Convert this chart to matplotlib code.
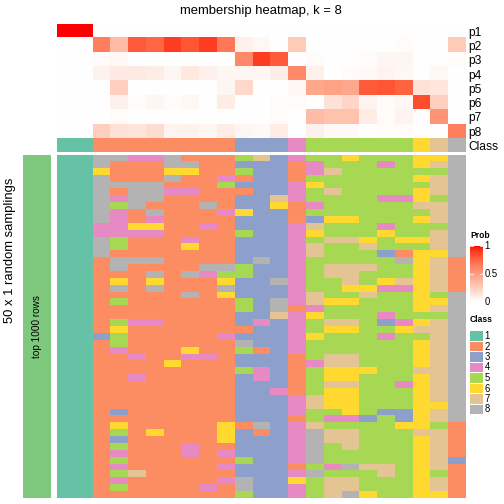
import numpy as np
import matplotlib
matplotlib.use("Agg")
import matplotlib.pyplot as plt
from matplotlib.colors import ListedColormap, LinearSegmentedColormap
from matplotlib.patches import Rectangle

plt.rcParams['font.family'] = ['Liberation Sans', 'DejaVu Sans']

# ---- data ----
title = "membership heatmap, k = 8"
prob_rows = ["p1", "p2", "p3", "p4", "p5", "p6", "p7", "p8"]
class_labels = ["1", "2", "3", "4", "5", "6", "7", "8"]
class_colors = ["#66C2A5", "#FC8D62", "#8DA0CB", "#E78AC3",
                "#A6D854", "#FFD92F", "#E5C494", "#B3B3B3"]

# class of each column (23 samples)
col_class = [1, 1, 2, 2, 2, 2, 2, 2, 2, 2, 3, 3, 3, 4, 5, 5, 5, 5, 5, 5, 6, 7, 8]

# membership probabilities, one list per class
p1 = [1, 1, 0, 0, 0, 0, 0, 0, 0, 0, 0, 0, 0, 0, 0, 0, 0, 0, 0, 0, 0, 0, 0]
p2 = [0, 0, .65, .35, .8, .75, .9, .82, .9, .68, .08, .04, 0, .27, 0, 0, 0, 0, 0, .02, 0, 0, .27]
p3 = [0, 0, .02, .04, 0, 0, 0, 0, 0, 0, .6, .9, .8, 0, .02, 0, 0, .02, .05, .05, 0, 0, .02]
p4 = [0, 0, .07, .11, .11, .09, .05, .12, .08, .05, .05, .05, .09, .6, .08, 0, .02, .03, .06, .04, 0, .04, 0]
p5 = [0, 0, 0, .25, 0, 0, 0, 0, 0, .05, .2, 0, 0, .04, .45, .48, .45, .8, .82, .77, .15, .13, 0]
p6 = [0, 0, 0, .08, .02, .05, .02, .04, 0, .1, 0, 0, .02, .02, 0, .15, .22, .06, .02, .04, .85, .25, 0]
p7 = [0, 0, 0, .02, 0, 0, 0, 0, 0, 0, 0, 0, .02, 0, .35, .32, .32, .1, .02, .06, 0, .55, 0]
p8 = [0, 0, .25, .15, .14, .18, .06, .07, .05, .1, .05, .03, .1, 0, .08, .03, .03, 0, .02, .02, 0, 0, .65]

# class assigned in each of the 50 random samplings (first two samples always class 1)
# O=2 B=3 P=4 G=5 Y=6 T=7 X=8
samplings = [
    "XXPPXOOOGTBPGGYGGGYYX", "XOOOXXOOBBBOPGGGPGYTX", "YOOOYYOOGBBOPTGGGGGGX",
    "XOOOXOOPOBBOGGGGGGYTX", "XXXXOOOGBBBPYGGGGGGTX", "XOXXPPOOOBBPGTGGGGYTX",
    "XPXXOOOOBBTPGGGGPPYGX", "XGXOOOXOBBYOPGGGGGTTX", "XPOXOOOPYBBOGGGGGGGTX",
    "XPOPOOOOBBBOBYYGGGYTX", "PPYYOOPOBBBPTGGGPGGGX", "PPPPOOOOGBBPYGGGYGGTX",
    "XGOOOPOOBBBPGTTYGYYTX", "XGOOOYOOBBBPTGGTGGGTX", "XOOOOOOOBBBPTGGGBOYYX",
    "OXXXOOOOBXBPGGGGGXYTO", "OXOOOOXXGBBPGTTTGGYTO", "OOOXOXPGGBBPGTTGGGYTO",
    "OYOYOOOYBBXPGGTGYTYTO", "OXOXOOOXBBBPGGYYPPYTO", "OOOOOXOYBBBPTGGTGGYGX",
    "OGOOOOOOGBXPTYYGGGYYX", "OOOOOOOOGBXOPGGGGGYTX", "OOOOOOOOBBTPYGGGPGGGX",
    "OGPPOOOOBPBPGTTGBPYTX", "OYOOOOOOOBBPGYYGGYTTX", "BGOOOOOPBBBPYGGGPGGTX",
    "OGOOOOOOXBBPGGGGGGYTX", "OPOOOYOOGOBPGGGGGGYTX", "OOPOOPPOBBBOGTTGGGYTX",
    "OOOOYOOOBBBOPTTGGGYTX", "OOOOOOOOGPBOGYYYGGTTX", "OOPOOOOOBPBOGYYGGGYTX",
    "OOOOOOOOBBBOGTTGGPYTX", "OOOOOOOOBBPOGYYGGGYTX", "OOOOOOOOBBBPTYYGGGYTX",
    "OOOOOOOOBBBPTYYGGGYYX", "OBOOOOOOBBBPGGYGBBYTX", "OOOOOOOOBBBOGPPBGBYTX",
    "OYOOOOOYOXBPTGGGGYYGO", "OGOYOOOYBOBPXTTGGGTTO", "OBOOOOOYBBBPXTTGGGYTO",
    "OGOOOPOOBBBPXGTGGGYTO", "OPOOOPOPBBBPXGGGGGYTO", "OGOOOOOOGBBPXGGGGGYTB",
    "OPOOOOOPBBBOGPXTTGYTO", "OGTOOOOOBBBPXGGGTGYGO", "OPOOOOOPXBBYGTTGGGYTO",
    "OGOOOOPOXBBPGTTGGGYTO", "OOOOOOOOGBBPGTXYGGYYO",
]
code = {"O": 2, "B": 3, "P": 4, "G": 5, "Y": 6, "T": 7, "X": 8}


def lab_ramp(c0, c1, n=101):
    # linear ramp in CIE Lab space, like colorRamp2
    m = np.array([[0.4124, 0.3576, 0.1805], [0.2126, 0.7152, 0.0722], [0.0193, 0.1192, 0.9505]])
    wp = np.array([0.95047, 1.0, 1.08883])

    def to_lab(rgb):
        c = np.array(rgb, float)
        c = np.where(c <= 0.04045, c / 12.92, ((c + 0.055) / 1.055) ** 2.4)
        xyz = m @ c / wp
        f = np.where(xyz > 0.008856, np.cbrt(xyz), 7.787 * xyz + 16 / 116)
        return np.array([116 * f[1] - 16, 500 * (f[0] - f[1]), 200 * (f[1] - f[2])])

    def to_rgb(lab):
        fy = (lab[0] + 16) / 116
        f = np.array([fy + lab[1] / 500, fy, fy - lab[2] / 200])
        t = np.where(f ** 3 > 0.008856, f ** 3, (f - 16 / 116) / 7.787)
        lin = np.clip(np.linalg.solve(m, t * wp), 0, 1)
        c = np.where(lin <= 0.0031308, 12.92 * lin, 1.055 * lin ** (1 / 2.4) - 0.055)
        return np.clip(c, 0, 1)

    a, b = to_lab(c0), to_lab(c1)
    cols = [to_rgb(a + (b - a) * t) for t in np.linspace(0, 1, n)]
    return LinearSegmentedColormap.from_list("prob", cols)


prob_cmap = lab_ramp((1, 1, 1), (1, 0, 0))
class_cmap = ListedColormap(class_colors)

prob = np.array([p1, p2, p3, p4, p5, p6, p7, p8])
samp = np.array([[1, 1] + [code[ch] for ch in s] for s in samplings])

W = 504
fig = plt.figure(figsize=(7, 7), dpi=72)


def px(x0, y0, x1, y1):
    # image pixel box -> figure fraction
    return [x0 / W, 1 - y1 / W, (x1 - x0) / W, (y1 - y0) / W]


hm_x0, hm_x1 = 56.7, 465

ax_top = fig.add_axes(px(hm_x0, 24, hm_x1, 138.3))
ax_top.imshow(prob, cmap=prob_cmap, vmin=0, vmax=1, aspect="auto", interpolation="nearest")
ax_top.set_yticks(range(len(prob_rows)))
ax_top.set_yticklabels(prob_rows)

ax_cls = fig.add_axes(px(hm_x0, 138.3, hm_x1, 151.7))
ax_cls.imshow(np.array([col_class]), cmap=class_cmap, vmin=0.5, vmax=8.5,
              aspect="auto", interpolation="nearest")
ax_cls.set_yticks([0])
ax_cls.set_yticklabels(["Class"])

for ax in (ax_top, ax_cls):
    ax.set_xticks([])
    ax.yaxis.tick_right()
    ax.tick_params(axis="y", length=0, pad=3, labelsize=12)
    for s in ax.spines.values():
        s.set_visible(False)

ax_bot = fig.add_axes(px(hm_x0, 154.7, hm_x1, 498.3))
ax_bot.imshow(samp, cmap=class_cmap, vmin=0.5, vmax=8.5, aspect="auto", interpolation="nearest")
ax_bot.axis("off")

ax_bar = fig.add_axes(px(22.7, 154.7, 51, 498.3))
ax_bar.set_facecolor("#7FC97F")
ax_bar.set_xticks([])
ax_bar.set_yticks([])
for s in ax_bar.spines.values():
    s.set_visible(False)
ax_bar.text(0.5, 0.5, "top 1000 rows", rotation=90, ha="center", va="center",
            fontsize=10, transform=ax_bar.transAxes)

fig.text(10 / W, 1 - 250.5 / W, "50 x 1 random samplings", rotation=90,
         ha="center", va="center", fontsize=13)
fig.text(260.5 / W, 1 - 11 / W, title, ha="center", va="center", fontsize=13)

# legends, drawn in image pixel coordinates
ax_leg = fig.add_axes(px(466, 0, 504, 504))
ax_leg.set_xlim(466, 504)
ax_leg.set_ylim(504, 0)
ax_leg.axis("off")

ax_leg.text(470, 236, "Prob", fontsize=8.5, fontweight="bold", ha="left", va="center")
bar_top, bar_bot = 246, 302
ax_leg.imshow(np.linspace(1, 0, 100)[:, None], cmap=prob_cmap, vmin=0, vmax=1,
              extent=(470, 482.7, bar_bot, bar_top), aspect="auto")
for v in [0, 0.5, 1]:
    y = bar_bot - v * (bar_bot - bar_top)
    if v > 0:
        ax_leg.plot([470, 472.5], [y, y], color="white", lw=0.8)
        ax_leg.plot([480.2, 482.7], [y, y], color="white", lw=0.8)
    ax_leg.text(484.5, y, f"{v:g}", fontsize=9.5, ha="left", va="center")

ax_leg.text(470, 320, "Class", fontsize=8.5, fontweight="bold", ha="left", va="center")
for i, (lab, col) in enumerate(zip(class_labels, class_colors)):
    y0 = 331 + 10.5 * i
    ax_leg.add_patch(Rectangle((470, y0), 12.7, 9.8, facecolor=col, edgecolor="none"))
    ax_leg.text(484.5, y0 + 5, lab, fontsize=9.5, ha="left", va="center")

fig.savefig("out.png", dpi=72)
